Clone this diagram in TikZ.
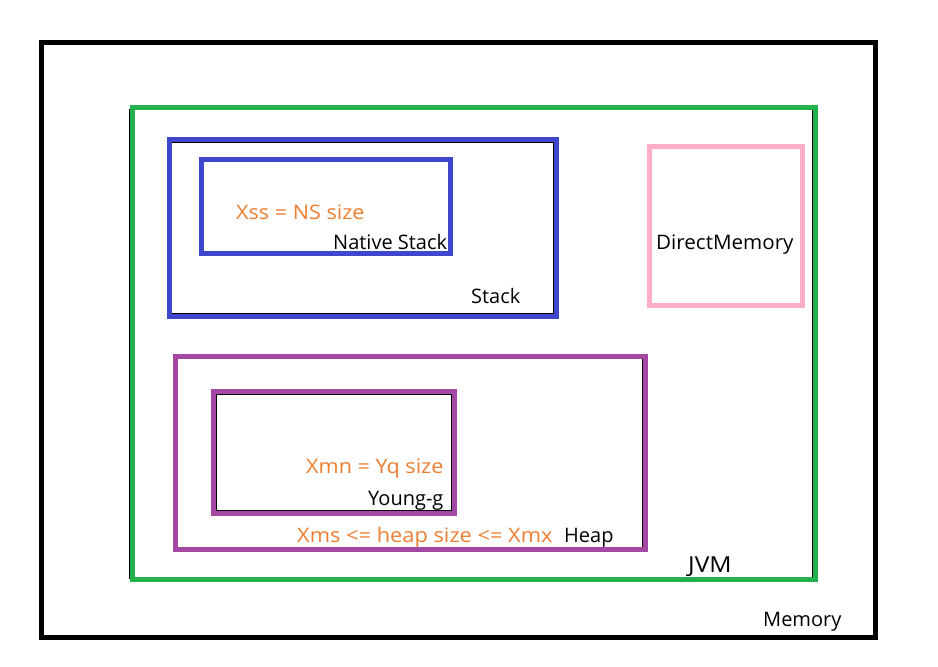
\documentclass[tikz,border=0pt]{standalone}
\usepackage{fontspec}
\setmainfont{Open Sans}
\definecolor{jvmgreen}{RGB}{34,177,76}
\definecolor{stackblue}{RGB}{63,72,204}
\definecolor{heappurple}{RGB}{163,73,164}
\definecolor{directpink}{RGB}{255,174,201}
\definecolor{noteorange}{RGB}{237,125,49}

\begin{document}
\begin{tikzpicture}[x=1pt,y=-1pt,
    lbl/.style={anchor=base west,inner sep=0pt,font=\fontsize{20}{24}\selectfont},
    note/.style={lbl,text=noteorange,xscale=1.08},
    pencil/.style={draw=black,line width=1.3pt},
    boxline/.style={line width=5pt}]
    \useasboundingbox (0,0) rectangle (938,667);

    % Memory
    \draw[boxline,black] (41.5,42.5) rectangle (875.5,637.5);
    \node (memlbl) [lbl,at={(763,626)}] {Memory};

    % JVM
    \draw[pencil] (129.5,109.5) rectangle (812.5,578);
    \draw[boxline,jvmgreen] (132,107.5) rectangle (815,579.5);
    \node (jvmlbl) [lbl,font=\fontsize{22}{26}\selectfont,xscale=1.12,at={(688,572)}] {JVM};

    % Stack
    \draw[pencil] (171,142) rectangle (554,314);
    \draw[boxline,stackblue] (169.5,139.5) rectangle (556,316);
    \node (stacklbl) [lbl,at={(471,303)}] {Stack};
    \draw[boxline,stackblue] (201.5,159.5) rectangle (450.5,253.5);
    \node (xsslbl) [note,at={(236,219)}] {Xss = NS size};
    \node (nativelbl) [lbl,at={(333,249)}] {Native Stack};

    % DirectMemory
    \draw[pencil] (647.5,146) -- (647.5,308);
    \draw[boxline,directpink] (649.5,146.5) rectangle (802.5,305.5);
    \node (directlbl) [lbl,xscale=1.03,at={(656,249)}] {DirectMemory};

    % Heap
    \draw[pencil] (643,357) -- (643,549);
    \draw[boxline,heappurple] (175.5,356.5) rectangle (645.5,549.5);
    \node (heaplbl) [lbl,at={(564,542)}] {Heap};
    \node (xmslbl) [note,xscale=1.01,at={(297,542)}] {Xms <= heap size <= Xmx};
    \draw[boxline,heappurple] (213.5,391.5) rectangle (454.5,513.5);
    \draw[pencil] (216.5,394.5) rectangle (451.5,510.5);
    \node (xmnlbl) [note,at={(306,473)}] {Xmn = Yq size};
    \node (younglbl) [lbl,at={(368,505)}] {Young-g};
\end{tikzpicture}
\end{document}
